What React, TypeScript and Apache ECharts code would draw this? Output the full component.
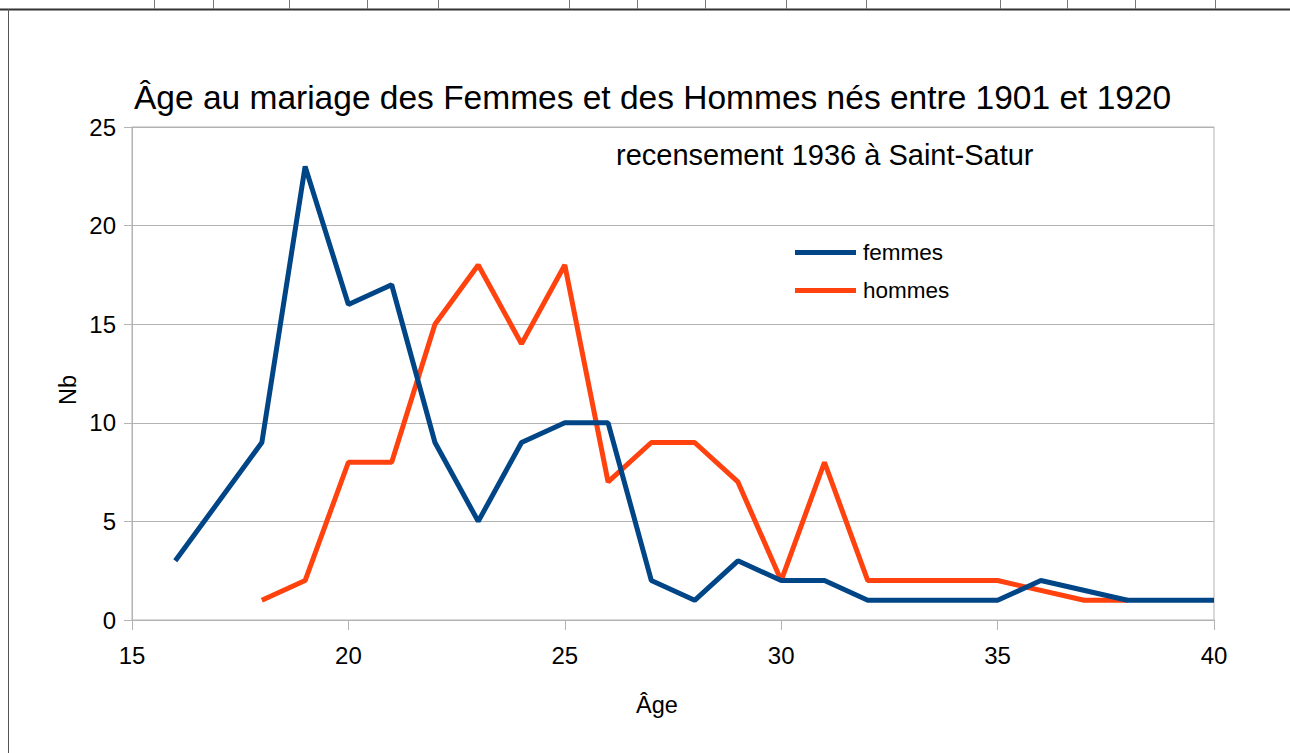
import React, { useEffect, useRef } from "react";
import * as echarts from "echarts";

const titleText = "Âge au mariage des Femmes et des Hommes nés entre 1901 et 1920";
const subtitleText = "recensement 1936 à Saint-Satur";
const xName = "Âge";
const yName = "Nb";

const femmesAges = [16, 18, 19, 20, 21, 22, 23, 24, 25, 26, 27, 28, 29, 30, 31, 32, 33, 34, 35, 36, 38, 39, 40];
const femmesValues = [3, 9, 23, 16, 17, 9, 5, 9, 10, 10, 2, 1, 3, 2, 2, 1, 1, 1, 1, 2, 1, 1, 1];

const hommesAges = [18, 19, 20, 21, 22, 23, 24, 25, 26, 27, 28, 29, 30, 31, 32, 33, 34, 35, 37, 38];
const hommesValues = [1, 2, 8, 8, 15, 18, 14, 18, 7, 9, 9, 7, 2, 8, 2, 2, 2, 2, 1, 1];

const cellLineXs = [154, 213, 289, 367, 438, 569, 637, 705, 786, 866, 1000, 1067, 1135, 1215];

const FONT = "'Liberation Sans', Arial, sans-serif";

export default function App() {
  const ref = useRef<HTMLDivElement>(null);
  useEffect(() => {
    if (!ref.current) return;
    const chart = echarts.init(ref.current, undefined, { renderer: "svg" });
    const femmes = femmesAges.map((a, i) => [a, femmesValues[i]]);
    const hommes = hommesAges.map((a, i) => [a, hommesValues[i]]);
    const graphics: any[] = [
      { type: "line", shape: { x1: 0, y1: 9.5, x2: 1290, y2: 9.5 }, style: { stroke: "#333", lineWidth: 2 } },
      { type: "line", shape: { x1: 8.5, y1: 9, x2: 8.5, y2: 753 }, style: { stroke: "#555", lineWidth: 1 } },
      ...cellLineXs.map((x) => ({
        type: "line",
        shape: { x1: x + 0.5, y1: 0, x2: x + 0.5, y2: 9 },
        style: { stroke: "#777", lineWidth: 1 },
      })),
      {
        type: "text",
        x: 616,
        y: 155,
        style: { text: subtitleText, font: `29px ${FONT}`, fill: "#000", verticalAlign: "middle" },
      },
      {
        type: "text",
        x: 657,
        y: 705,
        style: { text: xName, font: `23.5px ${FONT}`, fill: "#000", align: "center", verticalAlign: "middle" },
      },
      {
        type: "text",
        x: 68,
        y: 390,
        rotation: Math.PI / 2,
        style: { text: yName, font: `23.5px ${FONT}`, fill: "#000", align: "center", verticalAlign: "middle" },
      },
    ];
    chart.setOption({
      animation: false,
      backgroundColor: "#fff",
      title: {
        text: titleText,
        left: 134,
        top: 80,
        padding: 0,
        textStyle: { fontFamily: FONT, fontSize: 33.5, fontWeight: "normal", color: "#000" },
      },
      legend: {
        orient: "vertical",
        left: 795,
        top: 241,
        padding: 0,
        itemWidth: 61,
        itemHeight: 5,
        itemGap: 15,
        icon: "rect",
        textStyle: { fontFamily: FONT, fontSize: 22.5, color: "#000", padding: [0, 0, 0, 2] },
        data: ["femmes", "hommes"],
      },
      grid: {
        left: 132,
        right: 76,
        top: 127,
        bottom: 133,
        show: true,
        borderColor: "#b3b3b3",
        borderWidth: 1,
      },
      xAxis: {
        type: "value",
        min: 15,
        max: 40,
        interval: 5,
        axisLine: { show: true, lineStyle: { color: "#b3b3b3" } },
        axisTick: { show: true, length: 10, lineStyle: { color: "#b3b3b3" } },
        axisLabel: { fontFamily: FONT, fontSize: 24, color: "#000", margin: 23 },
        splitLine: { show: false },
      },
      yAxis: {
        type: "value",
        min: 0,
        max: 25,
        interval: 5,
        axisLine: { show: true, lineStyle: { color: "#b3b3b3" } },
        axisTick: { show: true, length: 8, lineStyle: { color: "#b3b3b3" } },
        axisLabel: { fontFamily: FONT, fontSize: 24, color: "#000", margin: 16 },
        splitLine: { show: true, lineStyle: { color: "#b3b3b3" } },
      },
      series: [
        {
          name: "hommes",
          type: "line",
          data: hommes,
          showSymbol: false,
          symbol: "none",
          color: "#ff420e",
          lineStyle: { width: 5, color: "#ff420e" },
          z: 2,
        },
        {
          name: "femmes",
          type: "line",
          data: femmes,
          showSymbol: false,
          symbol: "none",
          color: "#004586",
          lineStyle: { width: 5, color: "#004586" },
          z: 3,
        },
      ],
      graphic: graphics,
    });
    return () => chart.dispose();
  }, []);
  return (
    <div
      ref={ref}
      style={{ position: "absolute", left: 0, top: 0, width: 1290, height: 753 }}
    />
  );
}
